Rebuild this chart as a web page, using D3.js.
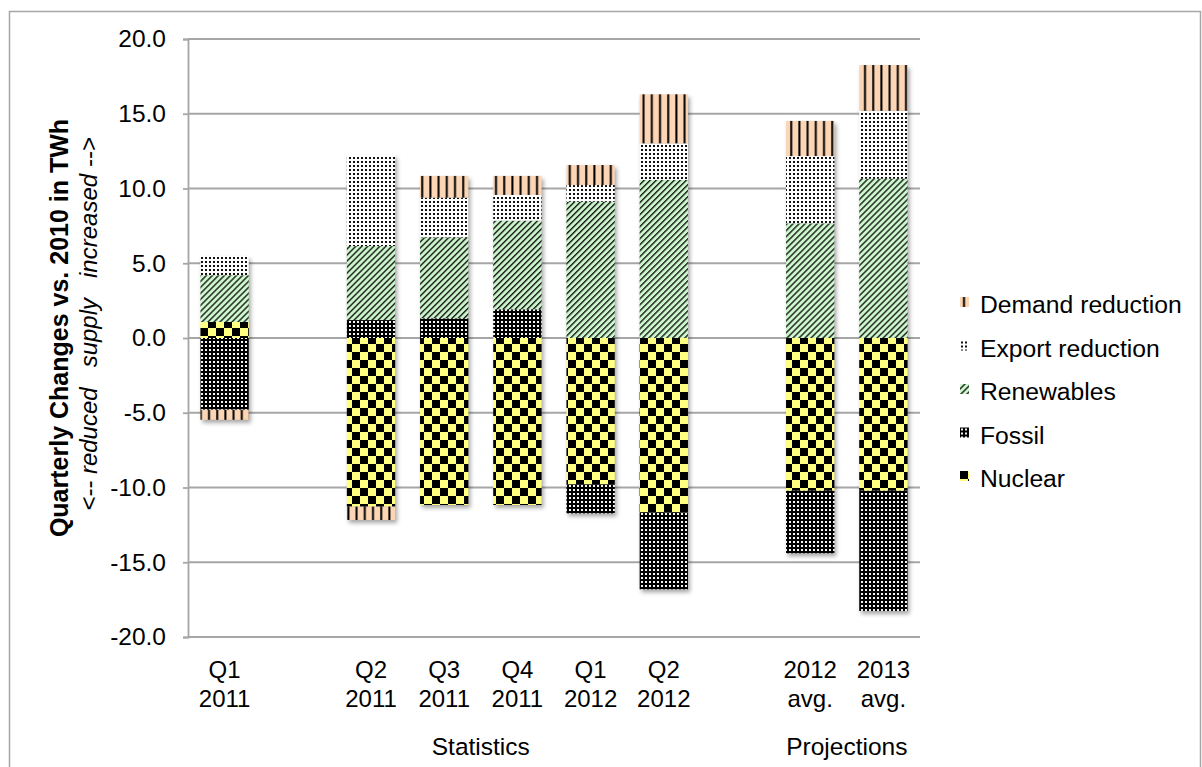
<!DOCTYPE html>
<html><head><meta charset="utf-8">
<script src="https://cdn.jsdelivr.net/npm/d3@7"></script>
<style>
body{margin:0;background:#fff}
svg{display:block}
text{font-family:"Liberation Sans",Arial,Helvetica,sans-serif;fill:#000}
</style></head>
<body><svg id="c" width="1202" height="767"></svg>
<script>
// ---- data ----
const categories = ["Q1 2011","","Q2 2011","Q3 2011","Q4 2011","Q1 2012","Q2 2012","","2012 avg.","2013 avg."];
const seriesNames = ["Nuclear","Fossil","Renewables","Export reduction","Demand reduction"];
const nuclear    = [1.07, 0, -11.28, -11.17, -11.17, -9.79, -11.66, 0, -10.22, -10.22];
const fossil     = [-4.80, 0, 1.20, 1.32, 1.92, -1.94, -5.15, 0, -4.18, -8.04];
const renewables = [3.13, 0, 4.95, 5.41, 5.93, 9.12, 10.57, 0, 7.67, 10.66];
const exportRed  = [1.27, 0, 6.09, 2.66, 1.72, 1.11, 2.45, 0, 4.50, 4.54];
const demandRed  = [-0.67, 0, -0.89, 1.45, 1.27, 1.34, 3.28, 0, 2.35, 3.06];
const yTicks = [-20,-15,-10,-5,0,5,10,15,20];
const groupLabels = ["Statistics","Projections"];
const groupFrom = [1, 8];
const groupTo = [6, 9];
const legendOrder = ["Demand reduction","Export reduction","Renewables","Fossil","Nuclear"];
const yTitle = "Quarterly Changes vs. 2010 in TWh";
const ySubTitle = "<-- reduced   supply   increased -->";

const seriesValues = {"Nuclear":nuclear,"Fossil":fossil,"Renewables":renewables,"Export reduction":exportRed,"Demand reduction":demandRed};
const patternId = {"Nuclear":"p-nuc","Fossil":"p-fos","Renewables":"p-ren","Export reduction":"p-exp","Demand reduction":"p-dem"};

const svg = d3.select("#c");
const defs = svg.append("defs");

// patterns
let p = defs.append("pattern").attr("id","p-nuc").attr("patternUnits","userSpaceOnUse").attr("width",16).attr("height",16);
p.append("rect").attr("width",16).attr("height",16).attr("fill","#ffff80");
p.append("rect").attr("width",8).attr("height",8).attr("fill","#000");
p.append("rect").attr("x",8).attr("y",8).attr("width",8).attr("height",8).attr("fill","#000");

p = defs.append("pattern").attr("id","p-fos").attr("patternUnits","userSpaceOnUse").attr("width",4).attr("height",4);
p.append("rect").attr("width",4).attr("height",4).attr("fill","#000");
p.append("rect").attr("x",1).attr("y",1).attr("width",2).attr("height",2).attr("fill","#f4f4f4");

p = defs.append("pattern").attr("id","p-exp").attr("patternUnits","userSpaceOnUse").attr("width",4).attr("height",4);
p.append("rect").attr("width",4).attr("height",4).attr("fill","#fff");
p.append("rect").attr("x",1).attr("y",1).attr("width",2).attr("height",2).attr("fill","#111");

p = defs.append("pattern").attr("id","p-ren").attr("patternUnits","userSpaceOnUse").attr("width",4.25).attr("height",4.25).attr("patternTransform","rotate(45)");
p.append("rect").attr("width",4.25).attr("height",4.25).attr("fill","#ccf7cc");
p.append("rect").attr("x",0).attr("y",0).attr("width",1.4).attr("height",4.25).attr("fill","#1a1a1a");

p = defs.append("pattern").attr("id","p-dem").attr("patternUnits","userSpaceOnUse").attr("width",8.2).attr("height",8);
p.append("rect").attr("width",8.2).attr("height",8).attr("fill","#fcd5b5");
p.append("rect").attr("x",3).attr("y",0).attr("width",2).attr("height",8).attr("fill","#000");

const f = defs.append("filter").attr("id","blur").attr("x","-30%").attr("y","-30%").attr("width","160%").attr("height","160%");
f.append("feGaussianBlur").attr("stdDeviation",2);

// outer border
svg.append("rect").attr("x",9.5).attr("y",11.5).attr("width",1191).attr("height",800)
  .attr("fill","none").attr("stroke","#a6a6a6").attr("stroke-width",1.5);

// scales
const x = d3.scaleBand().domain(d3.range(categories.length)).range([188,920]).paddingInner(0.34).paddingOuter(0.17);
const y = d3.scaleLinear().domain([-20,20]).range([637,39]);
const fmt = d3.formatLocale({decimal:".",thousands:",",grouping:[3],currency:["",""],minus:"-"}).format(".1f");

// gridlines
svg.append("g").selectAll("line").data(yTicks).join("line")
  .attr("x1",188).attr("x2",920).attr("y1",d=>y(d)).attr("y2",d=>y(d))
  .attr("stroke","#a6a6a6").attr("stroke-width",1.8);

// y axis
const yAxis = d3.axisLeft(y).tickValues(yTicks).tickFormat(fmt).tickSize(5).tickPadding(17);
const ya = svg.append("g").attr("transform","translate(188,0)").call(yAxis);
ya.select(".domain").attr("stroke","#a6a6a6").attr("stroke-width",1.8);
ya.selectAll(".tick line").attr("stroke","#a6a6a6").attr("stroke-width",1.8);
ya.selectAll(".tick text").attr("font-size",24.5).attr("font-family","'Liberation Sans',Arial,sans-serif").attr("fill","#000");

// stack
const rows = categories.map((c,i)=>{const r={i}; seriesNames.forEach(s=>r[s]=seriesValues[s][i]); return r;});
const stack = d3.stack().keys(seriesNames).offset(d3.stackOffsetDiverging)(rows);

// shadows
const ext = rows.map((r,i)=>{
  let lo=0, hi=0; stack.forEach(s=>{lo=Math.min(lo,s[i][0],s[i][1]); hi=Math.max(hi,s[i][0],s[i][1]);});
  return {i,lo,hi};
}).filter(d=>d.hi-d.lo>0);
svg.append("g").attr("filter","url(#blur)").selectAll("rect").data(ext).join("rect")
  .attr("x",d=>x(d.i)+2).attr("y",d=>y(d.hi)+3).attr("width",x.bandwidth()).attr("height",d=>y(d.lo)-y(d.hi))
  .attr("fill","rgba(0,0,0,0.35)");

// bars
svg.append("g").selectAll("g").data(stack).join("g")
  .attr("fill",s=>`url(#${patternId[s.key]})`)
  .selectAll("rect").data(s=>s.filter(d=>d[1]!==d[0])).join("rect")
  .attr("x",d=>x(d.data.i)).attr("width",x.bandwidth())
  .attr("y",d=>y(Math.max(d[0],d[1]))).attr("height",d=>Math.abs(y(d[0])-y(d[1])));

// category labels
const cl = svg.append("g").selectAll("text").data(categories.map((c,i)=>({c,i})).filter(d=>d.c)).join("text")
  .attr("text-anchor","middle").attr("font-size",24)
  .attr("x",d=>x(d.i)+x.bandwidth()/2);
cl.append("tspan").attr("x",d=>x(d.i)+x.bandwidth()/2).attr("y",678).text(d=>d.c.split(" ")[0]);
cl.append("tspan").attr("x",d=>x(d.i)+x.bandwidth()/2).attr("y",707).text(d=>d.c.split(" ")[1]);

// group labels
svg.append("g").selectAll("text").data(groupLabels).join("text")
  .attr("text-anchor","middle").attr("font-size",24.5).attr("y",755)
  .attr("x",(d,k)=>(x(groupFrom[k])-x.step()*x.paddingInner()/2 + x(groupTo[k])+x.bandwidth()+x.step()*x.paddingInner()/2)/2)
  .text(d=>d);

// y titles
svg.append("text").attr("transform","translate(68,328) rotate(-90)").attr("text-anchor","middle")
  .attr("font-size",25).attr("font-weight","bold").text(yTitle);
svg.append("text").attr("transform","translate(97,324) rotate(-90)").attr("text-anchor","middle")
  .attr("font-size",24).attr("font-style","italic").attr("xml:space","preserve").style("white-space","pre").text(ySubTitle);

// legend
const lg = svg.append("g").selectAll("g").data(legendOrder).join("g")
  .attr("transform",(d,k)=>`translate(960,${313 + k*43.5})`);
lg.append("rect").attr("x",0).attr("y",-16).attr("width",9).attr("height",10)
  .attr("fill",d=>`url(#${patternId[d]})`);
lg.append("text").attr("x",20).attr("y",0).attr("font-size",24.7).text(d=>d);
</script></body></html>
